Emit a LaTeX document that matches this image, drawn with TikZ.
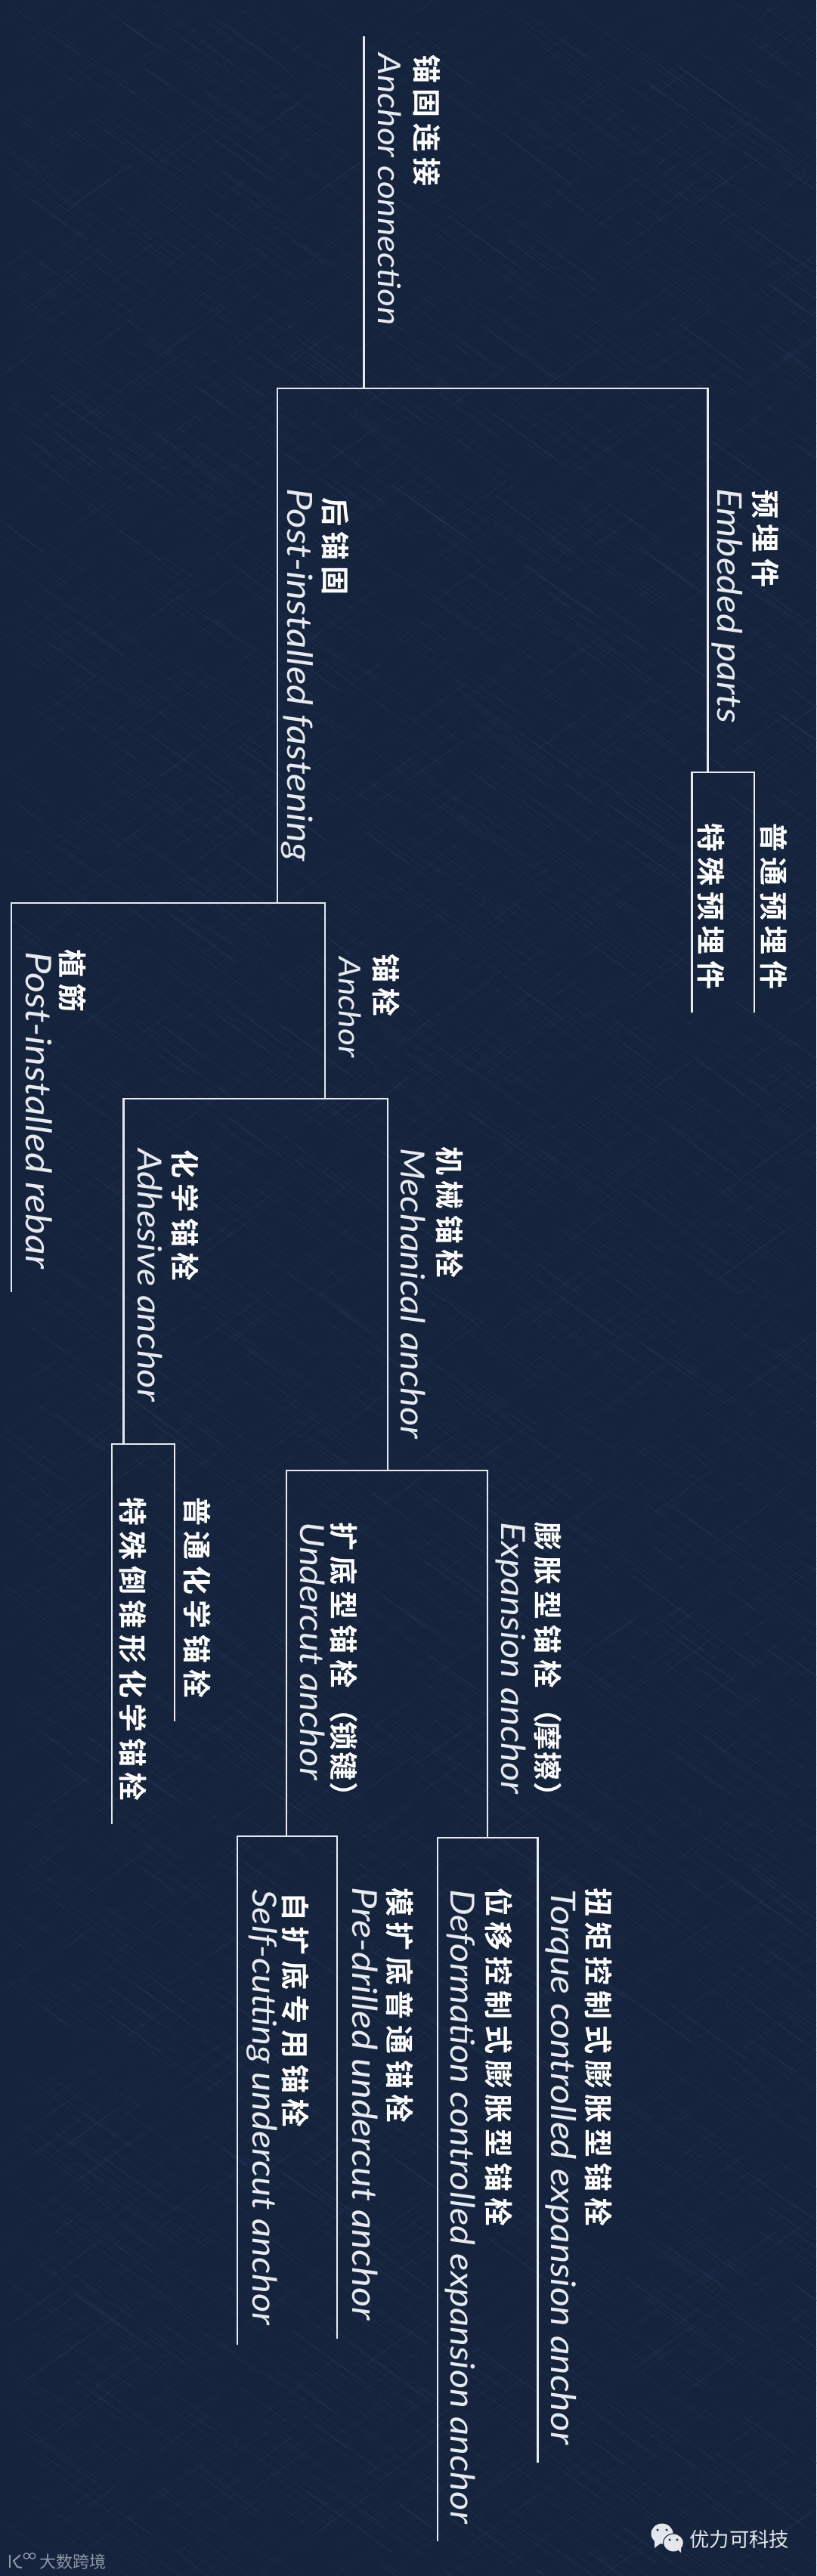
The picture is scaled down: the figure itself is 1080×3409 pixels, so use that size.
\documentclass[tikz,border=0pt]{standalone}
\usepackage{fontspec}
\setmainfont{Lato}[FakeStretch=1.11]
\newfontfamily\cnfont[LetterSpace=20,BoldFont={Noto Sans CJK SC Bold}]{Noto Sans CJK SC}
\newfontfamily\markfont{Noto Sans CJK SC}
\usetikzlibrary{shapes.geometric}
\definecolor{navy}{HTML}{15233C}
\definecolor{hatch}{HTML}{46608A}
\definecolor{chalk}{HTML}{E6EAEF}
\definecolor{markgrey}{HTML}{8E98A6}
\definecolor{markwhite}{HTML}{E4E7EC}
\tikzset{
  treeline/.style={draw=chalk, line width=2.6pt, line cap=butt, line join=miter},
  cnlabel/.style={rotate=-90, anchor=base west, inner sep=0pt, text=white, font=\cnfont\bfseries\fontsize{38}{40}\selectfont},
  enlabel/.style={rotate=-90, anchor=base west, inner sep=0pt, text=chalk, font=\itshape\fontsize{44}{46}\selectfont},
  ensize/.style={font=\itshape\fontsize{#1}{46}\selectfont},
}
\begin{document}
\begin{tikzpicture}[x=1pt, y=-1pt]
  \useasboundingbox (0,0) rectangle (1080,3409);
  \fill[navy] (0,0) rectangle (1080,3409);

  % cloth texture
  \pgfmathsetseed{17}
  \foreach \i in {1,...,2400} {
    \pgfmathsetmacro{\hx}{rnd*1080}
    \pgfmathsetmacro{\hy}{rnd*3409}
    \pgfmathsetmacro{\hlen}{30+rnd*90}
    \draw[hatch, line width=0.8pt, opacity=0.17] (\hx,\hy) -- ++(\hlen,0.72*\hlen);
    \pgfmathsetmacro{\hx}{rnd*1080}
    \pgfmathsetmacro{\hy}{rnd*3409}
    \draw[hatch, line width=0.8pt, opacity=0.12] (\hx,\hy) -- ++(\hlen,-0.72*\hlen);
  }

  % tree points
  \coordinate (root) at (481.5,48);
  \coordinate (rootfork) at (481.5,514);
  \coordinate (postfork) at (367,514);
  \coordinate (partsfork) at (936.5,514);
  \coordinate (postdown) at (367,1195);
  \coordinate (partsdown) at (936.5,1022);
  \coordinate (normalparts) at (998,1022);
  \coordinate (normalpartsend) at (998,1340);
  \coordinate (specialparts) at (915.5,1022);
  \coordinate (specialpartsend) at (915.5,1340);
  \coordinate (rebar) at (15,1195);
  \coordinate (rebarend) at (15,1710);
  \coordinate (anchorfork) at (430,1195);
  \coordinate (anchordown) at (430,1454);
  \coordinate (adhesive) at (163.5,1454);
  \coordinate (adhesivedown) at (163.5,1911);
  \coordinate (mechanical) at (513,1454);
  \coordinate (mechanicaldown) at (513,1946);
  \coordinate (normalchem) at (231,1911);
  \coordinate (normalchemend) at (231,2278);
  \coordinate (specialchem) at (148,1911);
  \coordinate (specialchemend) at (148,2414);
  \coordinate (undercut) at (379,1946);
  \coordinate (undercutdown) at (379,2430);
  \coordinate (expansion) at (645,1946);
  \coordinate (expansiondown) at (645,2432);
  \coordinate (selfcut) at (314,2430);
  \coordinate (selfcutend) at (314,3103);
  \coordinate (predrill) at (446,2430);
  \coordinate (predrillend) at (446,3095);
  \coordinate (deform) at (579,2432);
  \coordinate (deformend) at (579,3363);
  \coordinate (torque) at (711.5,2432);
  \coordinate (torqueend) at (711.5,3259);

  % tree lines
  \draw[treeline] (root) -- (rootfork);
  \draw[treeline] (postdown) -- (postfork) -- (partsfork) -- (partsdown);
  \draw[treeline] (normalpartsend) -- (normalparts) -- (specialparts) -- (specialpartsend);
  \draw[treeline] (rebarend) -- (rebar) -- (anchorfork) -- (anchordown);
  \draw[treeline] (adhesivedown) -- (adhesive) -- (mechanical) -- (mechanicaldown);
  \draw[treeline] (normalchemend) -- (normalchem) -- (specialchem) -- (specialchemend);
  \draw[treeline] (undercutdown) -- (undercut) -- (expansion) -- (expansiondown);
  \draw[treeline] (predrillend) -- (predrill) -- (selfcut) -- (selfcutend);
  \draw[treeline] (torqueend) -- (torque) -- (deform) -- (deformend);

  % labels
  \node[cnlabel] (rootcn) at (550,72) {锚固连接};
  \node[enlabel, ensize=41.5] (rooten) at (500,70) {Anchor connection};
  \node[cnlabel] (partscn) at (998,648) {预埋件};
  \node[enlabel, ensize=45] (partsen) at (949,646) {Embeded parts};
  \node[cnlabel] (postcn) at (429,658) {后锚固};
  \node[enlabel, ensize=46] (posten) at (380,646) {Post-installed fastening};
  \node[cnlabel] (normalpartscn) at (1009,1089) {普通预埋件};
  \node[cnlabel] (specialpartscn) at (926,1089) {特殊预埋件};
  \node[cnlabel] (rebarcn) at (81,1256) {植筋};
  \node[enlabel, ensize=47] (rebaren) at (34,1259) {Post-installed rebar};
  \node[cnlabel] (anchorcn) at (496,1262) {锚栓};
  \node[enlabel, ensize=40] (anchoren) at (448,1266) {Anchor};
  \node[cnlabel] (adhesivecn) at (230,1521) {化学锚栓};
  \node[enlabel] (adhesiveen) at (182,1520) {Adhesive anchor};
  \node[cnlabel] (mechanicalcn) at (580,1517) {机械锚栓};
  \node[enlabel] (mechanicalen) at (530,1519) {Mechanical anchor};
  \node[cnlabel] (normalchemcn) at (246,1981) {普通化学锚栓};
  \node[cnlabel] (specialchemcn) at (161,1981) {特殊倒锥形化学锚栓};
  \node[cnlabel] (undercutcn) at (440,2014) {扩底型锚栓（\hspace{-2pt}锁\hspace{2pt}键\hspace{2pt}）};
  \node[enlabel] (undercuten) at (397,2014) {Undercut anchor};
  \node[cnlabel] (expansioncn) at (710,2014) {膨胀型锚栓（\hspace{-2pt}摩\hspace{2pt}擦\hspace{2pt}）};
  \node[enlabel] (expansionen) at (663,2014) {Expansion anchor};
  \node[cnlabel] (selfcutcn) at (376,2504) {自扩底专用锚栓};
  \node[enlabel] (selfcuten) at (334,2500) {Self-cutting undercut anchor};
  \node[cnlabel] (predrillcn) at (514,2498) {模扩底普通锚栓};
  \node[enlabel, ensize=45.5] (predrillen) at (466,2497) {Pre-drilled undercut anchor};
  \node[cnlabel] (deformcn) at (645,2498) {位移控制式膨胀型锚栓};
  \node[enlabel] (deformen) at (596,2500) {Deformation controlled expansion anchor};
  \node[cnlabel] (torquecn) at (777,2498) {扭矩控制式膨胀型锚栓};
  \node[enlabel, ensize=45] (torqueen) at (729,2500) {Torque controlled expansion anchor};

  % marks in the bottom corners
  \draw[markgrey, line width=2pt] (13,3381) -- (13,3398);
  \draw[markgrey, line width=2pt] (27,3381) -- (18,3389) -- (23,3397) -- (29,3398);
  \draw[markgrey, line width=1.3pt] (35,3382.5) circle (3.8) (43,3382.5) circle (3.8);
  \node[text=markgrey, font=\markfont\fontsize{22}{24}\selectfont, anchor=west, inner sep=0pt] (leftmark) at (52,3390.5) {大数跨境};

  \fill[markwhite] (876,3353) ellipse (14.5 and 13.5);
  \fill[markwhite] (866,3362) -- (866,3372) -- (875,3365) -- cycle;
  \fill[markwhite, draw=navy, line width=1pt] (891,3365) ellipse (13.5 and 12);
  \fill[markwhite] (897,3374) -- (901,3378) -- (901,3370) -- cycle;
  \foreach \ex/\ey in {870/3348,882/3348,886/3361,896/3361}
    \fill[navy] (\ex,\ey) circle (1.7);
  \node[text=markwhite, font=\markfont\fontsize{26.4}{28}\selectfont, anchor=west, inner sep=0pt] (rightmark) at (912,3360) {优力可科技};
\end{tikzpicture}
\end{document}
